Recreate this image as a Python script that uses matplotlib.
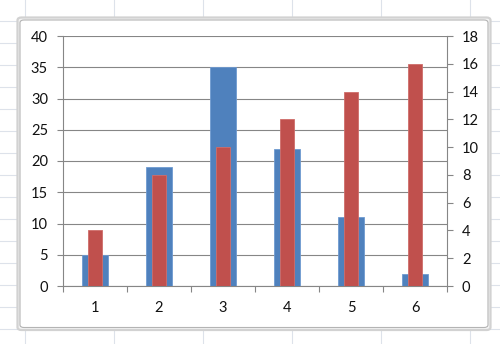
import matplotlib
matplotlib.use("Agg")
import matplotlib.pyplot as plt
from matplotlib.patches import FancyBboxPatch
from matplotlib.lines import Line2D

categories = ["1", "2", "3", "4", "5", "6"]
series_left = [5, 19, 35, 22, 11, 2]      # blue, primary axis
series_right = [4, 8, 10, 12, 14, 16]     # red, secondary axis
left_ticks = [0, 5, 10, 15, 20, 25, 30, 35, 40]
right_ticks = [0, 2, 4, 6, 8, 10, 12, 14, 16, 18]

W, H = 500, 344
fig = plt.figure(figsize=(W / 100, H / 100), dpi=100)
fig.patch.set_facecolor("white")
plt.rcParams["font.family"] = ["Lato", "DejaVu Sans"]

# Excel sheet grid behind the chart
gcol = "#dde2ea"
for yy in range(21, 344, 22):
    fig.add_artist(Line2D([0, 1], [1 - yy / H, 1 - yy / H], color=gcol, lw=0.8, transform=fig.transFigure, zorder=0))
for xx in [25, 114, 203, 292, 381, 470]:
    fig.add_artist(Line2D([xx / W, xx / W], [0, 1], color=gcol, lw=0.8, transform=fig.transFigure, zorder=0))

def add_frame(x0, y0, x1, y1, ec, lw, fc, z):
    p = FancyBboxPatch((x0 / W, 1 - y1 / H), (x1 - x0) / W, (y1 - y0) / H,
                       boxstyle="round,pad=0,rounding_size=0.008",
                       transform=fig.transFigure, facecolor=fc,
                       edgecolor=ec, lw=lw, zorder=z)
    fig.add_artist(p)

# chart frame (double light-gray border)
add_frame(17.5, 17.5, 490.5, 330, "#d2d2d2", 1.6, "#f4f4f4", 1)
add_frame(20, 20, 488, 327.5, "#b4b4b4", 0.8, "white", 1.1)

L, R, T, B = 63, 447, 36, 286
ax = fig.add_axes([L / W, 1 - B / H, (R - L) / W, (B - T) / H])
ax.set_zorder(2)
ax.patch.set_alpha(0)
ax2 = ax.twinx()

x = list(range(1, len(categories) + 1))
ax.bar(x, series_left, width=0.41, color="#4f81bd", edgecolor="#6f9ad0", lw=0.6, zorder=3)
ax2.bar(x, series_right, width=0.22, color="#c0504d", edgecolor="#cf6d6a", lw=0.6, zorder=4)

gray = "#868686"
ax.set_ylim(0, 40)
ax.set_yticks(left_ticks)
ax2.set_ylim(0, 18)
ax2.set_yticks(right_ticks)
ax.set_xlim(0.5, len(categories) + 0.5)
ax.set_xticks(x)
ax.set_xticklabels(categories)
ax.set_xticks([i + 0.5 for i in range(0, len(categories) + 1)], minor=True)

ax.grid(axis="y", color=gray, lw=0.8, zorder=0)
ax.set_axisbelow(True)

for a in (ax, ax2):
    for s in a.spines.values():
        s.set_visible(False)
ax.spines["left"].set_visible(True)
ax.spines["left"].set_color(gray)
ax.spines["bottom"].set_visible(True)
ax.spines["bottom"].set_color(gray)
ax2.spines["right"].set_visible(True)
ax2.spines["right"].set_color(gray)

fs = 10.5
ax.tick_params(axis="y", length=4.3, color=gray, width=0.8, pad=6.5, labelsize=fs, labelcolor="#111111")
ax2.tick_params(axis="y", length=4.3, color=gray, width=0.8, pad=6.5, labelsize=fs, labelcolor="#111111")
ax.tick_params(axis="x", which="major", length=0, pad=11, labelsize=fs, labelcolor="#111111")
ax.tick_params(axis="x", which="minor", length=4.3, color=gray, width=0.8)

fig.savefig("out.png", dpi=100, facecolor="white")
